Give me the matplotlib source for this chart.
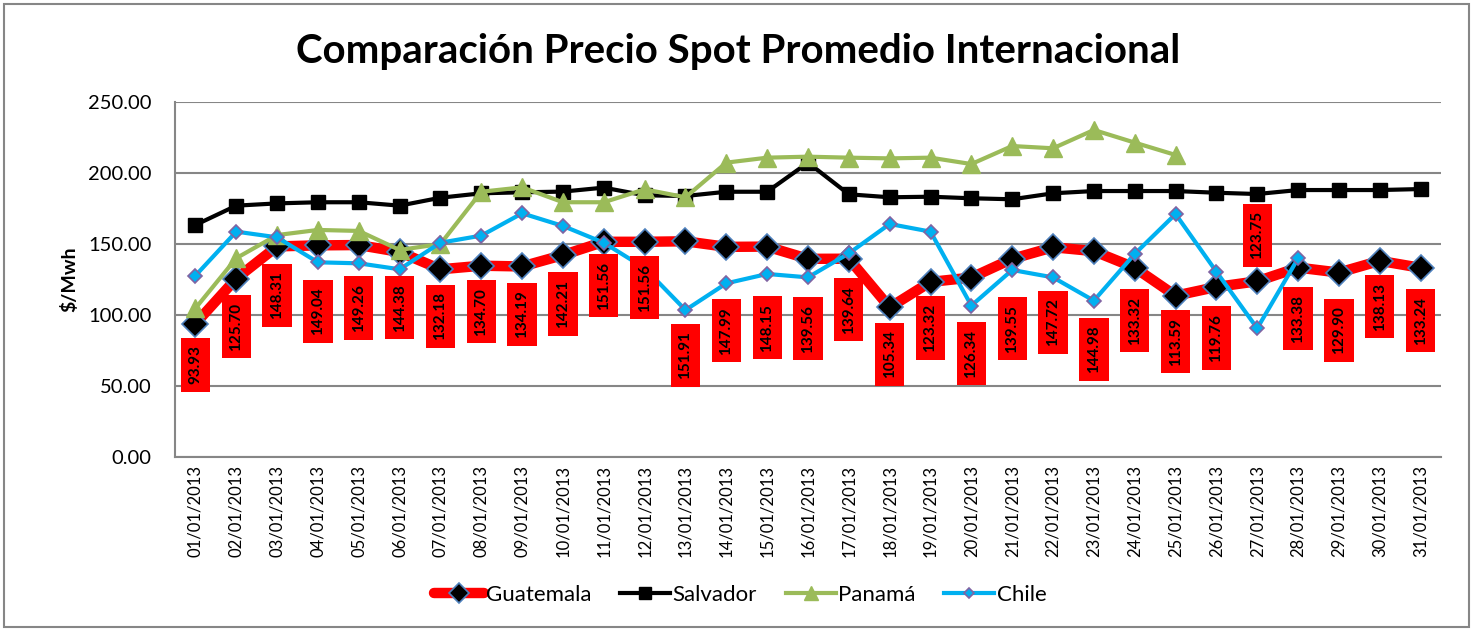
import numpy as np
import matplotlib
matplotlib.use("Agg")
from matplotlib import pyplot as plt
from matplotlib.patches import Rectangle

plt.rcParams["font.family"] = ["Lato", "DejaVu Sans"]

dates = ["%02d/01/2013" % d for d in range(1, 32)]

guatemala = [93.93, 125.70, 148.31, 149.04, 149.26, 144.38, 132.18, 134.70, 134.19, 142.21,
             151.56, 151.56, 151.91, 147.99, 148.15, 139.56, 139.64, 105.34, 123.32, 126.34,
             139.55, 147.72, 144.98, 133.32, 113.59, 119.76, 123.75, 133.38, 129.90, 138.13,
             133.24]
salvador = [163.4, 177.0, 178.6, 179.4, 179.4, 177.0, 182.6, 185.7, 186.4, 186.9,
            189.7, 184.3, 183.8, 186.8, 186.8, 207.3, 185.0, 182.9, 183.3, 182.2,
            181.5, 185.7, 187.3, 187.3, 187.3, 186.1, 185.2, 188.0, 188.0, 188.0,
            188.7]
panama = [104.7, 140.0, 156.3, 159.9, 159.2, 145.8, 150.0, 186.8, 189.9, 179.4,
          179.4, 188.5, 182.9, 207.3, 210.8, 211.5, 210.8, 210.3, 210.8, 206.3,
          219.0, 217.4, 230.3, 221.4, 212.7] + [np.nan] * 6
chile = [127.7, 158.7, 154.7, 137.1, 136.4, 132.2, 150.9, 155.9, 171.6, 162.7,
         150.9, 133.0, 103.5, 122.3, 128.9, 126.5, 143.4, 164.1, 158.7, 106.6,
         131.7, 126.5, 110.1, 143.0, 171.1, 130.5, 90.6, 139.9] + [np.nan] * 3

# vertical shift of each red label below its point, in pixels
label_shift = [41, 48, 49, 66, 63, 56, 47, 46, 48, 49, 44, 46, 114, 84, 81, 70, 51,
               47, 46, 76, 70, 75, 98, 53, 46, 51, -46, 51, 58, 46, 53]

x = np.arange(1, len(dates) + 1)

fig = plt.figure(figsize=(14.73, 6.31), dpi=100)
ax = fig.add_axes([175 / 1473, 1 - 457 / 631, 1266 / 1473, 355 / 631])

grid_col = "#868686"
ax.plot(x, guatemala, color="#FF0000", linewidth=7.5, marker="D", markersize=13,
        markerfacecolor="black", markeredgecolor="#4F81BD", markeredgewidth=1.2,
        label="Guatemala", zorder=3, solid_capstyle="round")
ax.plot(x, salvador, color="black", linewidth=3, marker="s", markersize=10,
        label="Salvador", zorder=4)
ax.plot(x, panama, color="#9BBB59", linewidth=3, marker="^", markersize=13,
        label="Panamá", zorder=5)
ax.plot(x, chile, color="#00B0F0", linewidth=3, marker="D", markersize=7,
        markerfacecolor="#00B0F0", markeredgecolor="#8064A2", markeredgewidth=1.2,
        label="Chile", zorder=6)

for xi, v, s in zip(x, guatemala, label_shift):
    ax.annotate("%.2f" % v, (xi, v), xytext=(0, -s), textcoords="offset pixels",
                ha="center", va="center", rotation=90, fontsize=11, fontweight="bold",
                bbox=dict(boxstyle="square,pad=0.5", facecolor="#FF0000", edgecolor="none"),
                zorder=10, annotation_clip=False)

ax.set_xlim(0.5, len(dates) + 0.5)
ax.set_ylim(0, 250)
ax.set_yticks(np.arange(0, 251, 50))
ax.set_yticklabels(["%.2f" % t for t in np.arange(0, 251, 50)], fontsize=14.5)
ax.set_xticks(x)
ax.set_xticklabels(dates, rotation=90, fontsize=12)
ax.tick_params(axis="y", length=0, pad=17)
ax.tick_params(axis="x", length=0, pad=6)
ax.yaxis.grid(True, color=grid_col, linewidth=1.5)
ax.set_axisbelow(True)
for side in ["top", "right"]:
    ax.spines[side].set_visible(False)
for side in ["left", "bottom"]:
    ax.spines[side].set_color(grid_col)
    ax.spines[side].set_linewidth(1.5)

ax.set_ylabel("$/Mwh", fontsize=14, fontweight="bold", labelpad=7)

fig.text(0.501, 0.919, "Comparación Precio Spot Promedio Internacional",
         ha="center", va="center", fontsize=29, fontweight="bold")

fig.legend(loc="center", bbox_to_anchor=(740 / 1473, 1 - 595 / 631), ncol=4,
           frameon=False, fontsize=16, handlelength=2.25, columnspacing=1.3,
           handletextpad=0.1, markerscale=0.8)

fig.patches.append(Rectangle((4 / 1473, 4 / 631), 1465 / 1473, 623 / 631,
                             transform=fig.transFigure, fill=False,
                             edgecolor=grid_col, linewidth=1.5))

plt.savefig("out.png", dpi=100)
